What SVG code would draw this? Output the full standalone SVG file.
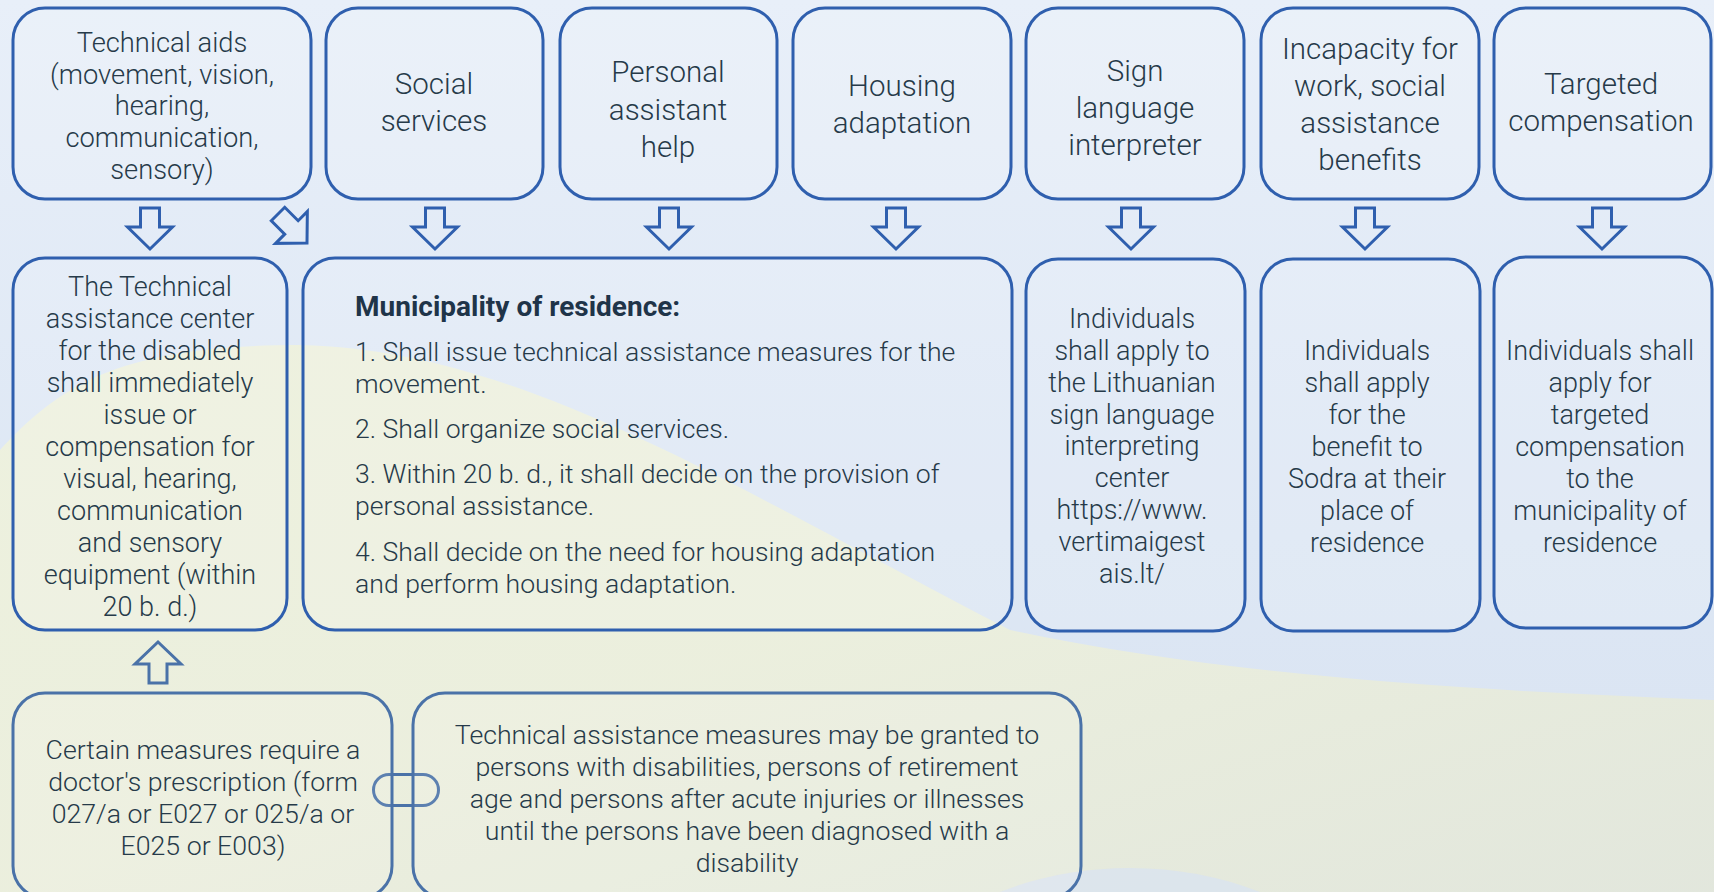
<svg xmlns="http://www.w3.org/2000/svg" width="1714" height="892" viewBox="0 0 1714 892">
<defs>
<linearGradient id="bg" x1="0" y1="0" x2="0" y2="1">
<stop offset="0" stop-color="#e8eff9"/>
<stop offset="0.6" stop-color="#dde7f4"/>
<stop offset="1" stop-color="#d9e3f2"/>
</linearGradient>
<linearGradient id="yel" x1="0" y1="0" x2="1" y2="1">
<stop offset="0" stop-color="#eff2dc"/>
<stop offset="0.5" stop-color="#edf0db"/>
<stop offset="1" stop-color="#e3e7da"/>
</linearGradient>
<style>
.box{fill:#ffffff;fill-opacity:0.12;stroke:#2f5fae;stroke-width:3}
.box2{fill:#ffffff;fill-opacity:0.1;stroke:#4a72a8;stroke-width:3}
.arr{fill:none;stroke:#2f5fae;stroke-width:3;stroke-linejoin:miter}
.arr2{fill:none;stroke:#4a72a8;stroke-width:3}
text{font-family:Roboto,"Liberation Sans",sans-serif;font-weight:300;fill:#263a49}
.t1{font-size:29.5px;text-anchor:middle}
.t0{font-size:27.3px;text-anchor:middle}
.t2{font-size:27px;text-anchor:middle}
.tm{font-size:26.6px}
.tb{font-size:28px;font-weight:bold;fill:#1f3449}
.t3{font-size:26.7px;text-anchor:middle}
</style>
</defs>
<g id="background">
<rect x="0" y="0" width="1714" height="892" fill="url(#bg)"/>
<path d="M0,450 C60,385 120,345 300,345 C520,350 720,480 1010,630 C1220,675 1460,690 1714,700 L1714,892 L0,892 Z" fill="url(#yel)" opacity="0.9"/>
<path d="M1000,892 C1080,860 1180,860 1260,892 Z" fill="#d9e3f2" opacity="0.7"/>
</g>
<g id="connectors">
<path class="arr" d="M140.5,208 H159.5 V227 H172.5 L150,249 L127.5,227 H140.5 Z"/>
<path class="arr" d="M425.5,208 H444.5 V227 H457.5 L435,249 L412.5,227 H425.5 Z"/>
<path class="arr" d="M659.5,208 H678.5 V227 H691.5 L669,249 L646.5,227 H659.5 Z"/>
<path class="arr" d="M886.5,208 H905.5 V227 H918.5 L896,249 L873.5,227 H886.5 Z"/>
<path class="arr" d="M1121.5,208 H1140.5 V227 H1153.5 L1131,249 L1108.5,227 H1121.5 Z"/>
<path class="arr" d="M1355.5,208 H1374.5 V227 H1387.5 L1365,249 L1342.5,227 H1355.5 Z"/>
<path class="arr" d="M1592.5,208 H1611.5 V227 H1624.5 L1602,249 L1579.5,227 H1592.5 Z"/>
<path class="arr" transform="translate(307,243) rotate(-45)" d="M-9.5,-41 H9.5 V-22 H22.5 L0,0 L-22.5,-22 H-9.5 Z"/>
<path class="arr2" d="M149,683 H167 V664 H181 L158,642 L135,664 H149 Z"/>
<rect class="arr2" x="373.5" y="774.5" width="65" height="31" rx="15.5"/>
</g>
<g id="n-technical-aids">
<rect class="box" x="13" y="8" width="298" height="191" rx="32"/>
<text class="t0"><tspan x="162" y="52">Technical aids</tspan><tspan x="162" y="84">(movement, vision,</tspan><tspan x="162" y="115">hearing,</tspan><tspan x="162" y="147">communication,</tspan><tspan x="162" y="179">sensory)</tspan></text>
</g>
<g id="n-social">
<rect class="box" x="326" y="8" width="217" height="191" rx="32"/>
<text class="t1"><tspan x="434" y="94">Social</tspan><tspan x="434" y="131">services</tspan></text>
</g>
<g id="n-personal">
<rect class="box" x="560" y="8" width="217" height="191" rx="32"/>
<text class="t1"><tspan x="668" y="82">Personal</tspan><tspan x="668" y="120">assistant</tspan><tspan x="668" y="157">help</tspan></text>
</g>
<g id="n-housing">
<rect class="box" x="793" y="8" width="218" height="191" rx="32"/>
<text class="t1"><tspan x="902" y="96">Housing</tspan><tspan x="902" y="133">adaptation</tspan></text>
</g>
<g id="n-sign">
<rect class="box" x="1026" y="8" width="218" height="191" rx="32"/>
<text class="t1"><tspan x="1135" y="81">Sign</tspan><tspan x="1135" y="118">language</tspan><tspan x="1135" y="155">interpreter</tspan></text>
</g>
<g id="n-incapacity">
<rect class="box" x="1261" y="8" width="218" height="191" rx="32"/>
<text class="t1"><tspan x="1370" y="59">Incapacity for</tspan><tspan x="1370" y="96">work, social</tspan><tspan x="1370" y="133">assistance</tspan><tspan x="1370" y="170">benefits</tspan></text>
</g>
<g id="n-targeted">
<rect class="box" x="1494" y="8" width="217" height="191" rx="32"/>
<text class="t1"><tspan x="1601" y="94">Targeted</tspan><tspan x="1601" y="131">compensation</tspan></text>
</g>
<g id="n-tech-center">
<rect class="box" x="13" y="258" width="274" height="372" rx="32"/>
<text class="t2"><tspan x="150" y="296">The Technical</tspan><tspan x="150" y="328">assistance center</tspan><tspan x="150" y="360">for the disabled</tspan><tspan x="150" y="392">shall immediately</tspan><tspan x="150" y="424">issue or</tspan><tspan x="150" y="456">compensation for</tspan><tspan x="150" y="488">visual, hearing,</tspan><tspan x="150" y="520">communication</tspan><tspan x="150" y="552">and sensory</tspan><tspan x="150" y="584">equipment (within</tspan><tspan x="150" y="616">20 b. d.)</tspan></text>
</g>
<g id="n-municipality">
<rect class="box" x="303" y="258" width="709" height="372" rx="32"/>
<text class="tb" x="355" y="316">Municipality of residence:</text>
<text class="tm"><tspan x="355" y="361">1. Shall issue technical assistance measures for the</tspan><tspan x="355" y="393">movement.</tspan><tspan x="355" y="438">2. Shall organize social services.</tspan><tspan x="355" y="483">3. Within 20 b. d., it shall decide on the provision of</tspan><tspan x="355" y="515">personal assistance.</tspan><tspan x="355" y="561">4. Shall decide on the need for housing adaptation</tspan><tspan x="355" y="593">and perform housing adaptation.</tspan></text>
</g>
<g id="n-sign-apply">
<rect class="box" x="1026" y="259" width="219" height="372" rx="32"/>
<text class="t2"><tspan x="1132" y="328">Individuals</tspan><tspan x="1132" y="360">shall apply to</tspan><tspan x="1132" y="392">the Lithuanian</tspan><tspan x="1132" y="424">sign language</tspan><tspan x="1132" y="455">interpreting</tspan><tspan x="1132" y="487">center</tspan><tspan x="1132" y="519">https://www.</tspan><tspan x="1132" y="551">vertimaigest</tspan><tspan x="1132" y="583">ais.lt/</tspan></text>
</g>
<g id="n-sodra">
<rect class="box" x="1261" y="259" width="219" height="372" rx="32"/>
<text class="t2"><tspan x="1367" y="360">Individuals</tspan><tspan x="1367" y="392">shall apply</tspan><tspan x="1367" y="424">for the</tspan><tspan x="1367" y="456">benefit to</tspan><tspan x="1367" y="488">Sodra at their</tspan><tspan x="1367" y="520">place of</tspan><tspan x="1367" y="552">residence</tspan></text>
</g>
<g id="n-targeted-apply">
<rect class="box" x="1494" y="257" width="218" height="371" rx="32"/>
<text class="t2"><tspan x="1600" y="360">Individuals shall</tspan><tspan x="1600" y="392">apply for</tspan><tspan x="1600" y="424">targeted</tspan><tspan x="1600" y="456">compensation</tspan><tspan x="1600" y="488">to the</tspan><tspan x="1600" y="520">municipality of</tspan><tspan x="1600" y="552">residence</tspan></text>
</g>
<g id="n-prescription">
<rect class="box2" x="13" y="693" width="379" height="205" rx="32"/>
<text class="t3"><tspan x="203" y="759">Certain measures require a</tspan><tspan x="203" y="791">doctor's prescription (form</tspan><tspan x="203" y="823">027/a or E027 or 025/a or</tspan><tspan x="203" y="855">E025 or E003)</tspan></text>
</g>
<g id="n-eligibility">
<rect class="box2" x="413" y="693" width="668" height="205" rx="32"/>
<text class="t3"><tspan x="747" y="744">Technical assistance measures may be granted to</tspan><tspan x="747" y="776">persons with disabilities, persons of retirement</tspan><tspan x="747" y="808">age and persons after acute injuries or illnesses</tspan><tspan x="747" y="840">until the persons have been diagnosed with a</tspan><tspan x="747" y="872">disability</tspan></text>
</g>
</svg>
